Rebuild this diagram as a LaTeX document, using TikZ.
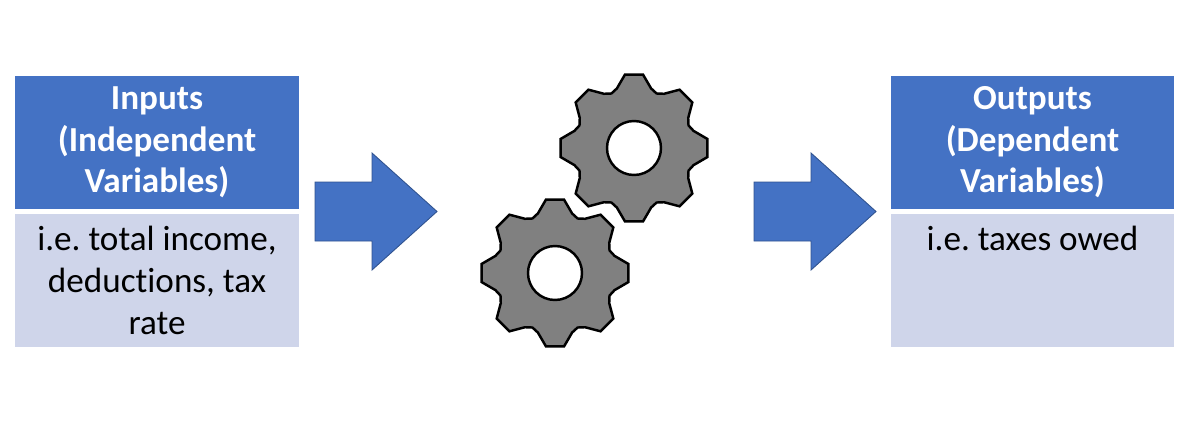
\documentclass[tikz,border=0pt]{standalone}
\usepackage{fontspec}
\setmainfont{Carlito}[Ligatures=NoCommon]
\frenchspacing
\usetikzlibrary{positioning}
\definecolor{headblue}{HTML}{4472C4}
\definecolor{bodyblue}{HTML}{CFD5EA}
\definecolor{edgeblue}{HTML}{2F528F}
\definecolor{gearfill}{HTML}{808080}
\tikzset{
    headbox/.style = {rectangle, outer sep=0pt, fill=headblue, minimum width=5.68cm, minimum height=2.66cm, align=center, text=white, font=\bfseries\fontsize{20}{23.6}\selectfont},
    bodybox/.style = {rectangle, outer sep=0pt, fill=bodyblue, minimum width=5.68cm, minimum height=2.66cm},
    bodytext/.style = {align=center, inner sep=0pt, font=\fontsize{20}{23.8}\selectfont},
    blockarrow/.style = {fill=headblue, draw=edgeblue, line width=0.5pt},
    gear/.style = {fill=gearfill, draw=black, line width=1.4pt},
    gearhole/.style = {fill=white, draw=black, line width=1.4pt}
}
\begin{document}
\begin{tikzpicture}[x=0.02cm,y=-0.02cm]
\path[use as bounding box] (0,0) rectangle (1191,434);
%
\node[headbox] at (157,142.5) (inhead) {Inputs\\(Independent\\Variables)};
\node[bodybox, below=0.1cm of inhead] (inbody) {};
\node[bodytext, below=0.24cm of inbody.north] (intext) {i.e. total income,\\deductions, tax\\rate};
%
\node[headbox] at (1032.5,142.5) (outhead) {Outputs\\(Dependent\\Variables)};
\node[bodybox, below=0.1cm of outhead] (outbody) {};
\node[bodytext, below=0.24cm of outbody.north] (outtext) {i.e. taxes owed};
%
\coordinate (arrowin) at (315,211.5);
\coordinate (arrowout) at (754,211.5);
\draw[blockarrow] (arrowin) ++(0,-29.5) -- ++(57,0) -- ++(0,-29) -- ++(65,58.5) -- ++(-65,58.5) -- ++(0,-29) -- ++(-57,0) -- cycle;
\draw[blockarrow] (arrowout) ++(0,-29.5) -- ++(57,0) -- ++(0,-29) -- ++(65,58.5) -- ++(-65,58.5) -- ++(0,-29) -- ++(-57,0) -- cycle;
%
\coordinate (gearA) at (634,148);
\coordinate (gearB) at (555,273);
\foreach \g in {gearA,gearB}{
\draw[gear] ([shift={(-7:74)}]\g) \foreach \a in {0,45,...,315} {
  -- ([shift={(\a-7:74)}]\g) -- ([shift={(\a+7:74)}]\g) -- ([shift={(\a+16:62)}]\g)
  -- ([shift={(\a+22.5:59)}]\g) -- ([shift={(\a+29:62)}]\g)} -- cycle;
\draw[gearhole] (\g) circle (27);
}
\end{tikzpicture}
\end{document}
